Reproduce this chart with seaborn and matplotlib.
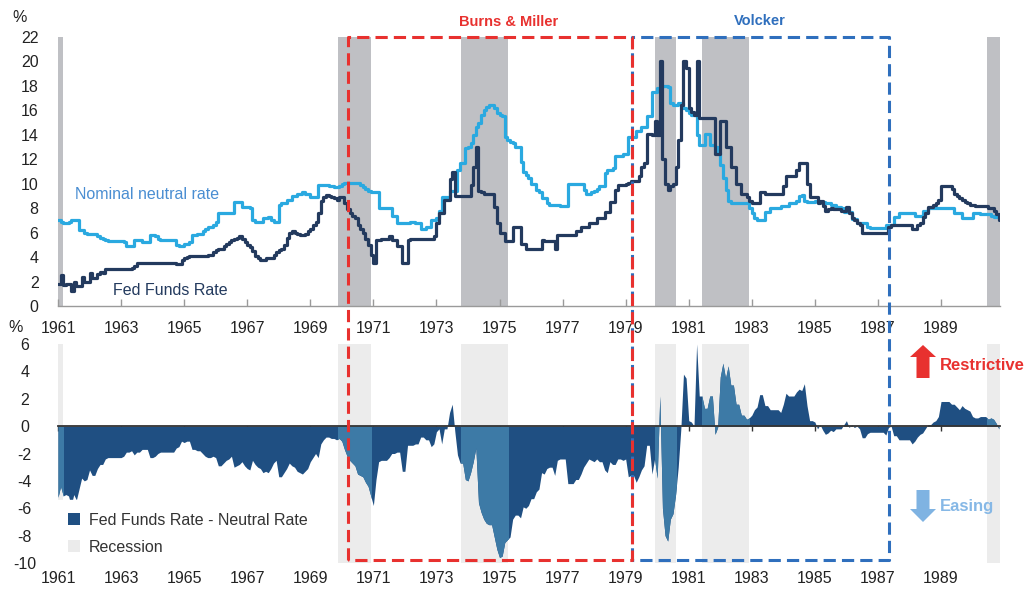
import numpy as np
import pandas as pd
import matplotlib
matplotlib.use("Agg")
import matplotlib.pyplot as plt
import seaborn as sns
from matplotlib.patches import Patch, Rectangle, FancyArrow
from matplotlib.lines import Line2D
from matplotlib import transforms

# ---------------------------------------------------------------------------
# Monthly data, January 1961 onwards (%)
# ---------------------------------------------------------------------------
start_year = 1961

fed_funds = [
    1.8, 2.5, 1.7, 1.8, 1.8, 1.2, 2.0, 1.6, 1.6, 2.4, 2.0, 2.0,        # 1961
    2.7, 2.3, 2.3, 2.6, 2.8, 2.7, 3.0, 3.0, 3.0, 3.0, 3.0, 3.0,        # 1962
    3.0, 3.0, 3.0, 3.0, 3.1, 3.3, 3.5, 3.5, 3.5, 3.5, 3.5, 3.5,        # 1963
    3.5, 3.5, 3.5, 3.5, 3.5, 3.5, 3.5, 3.5, 3.5, 3.4, 3.4, 3.8,        # 1964
    3.9, 4.0, 4.1, 4.1, 4.1, 4.1, 4.1, 4.1, 4.1, 4.2, 4.2, 4.4,        # 1965
    4.6, 4.7, 4.7, 4.9, 5.1, 5.2, 5.4, 5.5, 5.6, 5.7, 5.5, 5.2,        # 1966
    5.0, 4.8, 4.5, 4.1, 3.9, 3.8, 3.8, 3.9, 3.9, 3.9, 4.2, 4.4,        # 1967
    4.6, 4.7, 5.0, 5.6, 6.0, 6.1, 6.0, 5.9, 5.8, 5.8, 5.9, 6.1,        # 1968
    6.3, 6.6, 6.9, 7.6, 8.6, 8.9, 9.1, 9.0, 8.9, 8.8, 8.7, 8.9,        # 1969
    8.9, 8.4, 7.9, 7.6, 7.4, 7.2, 6.6, 6.3, 6.0, 5.5, 5.0, 4.2,        # 1970
    3.5, 5.4, 5.4, 5.5, 5.5, 5.5, 5.7, 5.4, 5.4, 4.9, 4.9, 3.5,        # 1971
    3.5, 5.4, 5.5, 5.5, 5.5, 5.5, 5.5, 5.5, 5.5, 5.5, 5.5, 5.7,        # 1972
    6.8, 7.6, 7.6, 8.7, 8.7, 10.4, 11.0, 9.0, 9.0, 9.0, 9.0, 9.0,      # 1973
    9.0, 9.9, 11.4, 13.0, 9.4, 9.3, 9.2, 9.2, 9.2, 9.2, 8.1, 6.8,      # 1974
    6.0, 6.0, 5.3, 5.3, 5.3, 6.5, 6.5, 6.5, 5.1, 5.1, 4.7, 4.7,        # 1975
    4.7, 4.7, 4.7, 4.7, 5.4, 5.3, 5.3, 5.3, 5.3, 4.7, 5.8, 5.8,        # 1976
    5.8, 5.8, 5.8, 5.8, 5.8, 6.1, 6.1, 6.5, 6.5, 6.5, 6.8, 6.8,        # 1977
    6.8, 7.2, 7.2, 7.2, 7.7, 7.7, 8.5, 8.5, 9.5, 9.9, 9.9, 9.9,        # 1978
    10.0, 10.1, 10.2, 10.2, 10.2, 10.6, 11.4, 11.7, 14.1, 14.1, 14.0, 15.1,  # 1979
    14.0, 20.0, 12.0, 10.0, 9.5, 9.8, 10.0, 11.4, 13.6, 16.4, 20.0, 19.5,    # 1980
    16.2, 15.9, 15.6, 20.0, 15.4, 15.4, 15.4, 15.4, 15.4, 15.4, 12.4, 12.4,  # 1981
    15.1, 15.1, 13.0, 13.0, 11.4, 11.4, 10.0, 10.0, 9.2, 9.2, 8.9, 8.6,      # 1982
    8.4, 8.4, 8.4, 9.3, 9.3, 9.2, 9.2, 9.2, 9.2, 9.2, 9.2, 9.2,        # 1983
    9.8, 10.6, 10.6, 10.6, 10.6, 11.1, 11.7, 11.7, 11.7, 10.0, 8.9, 8.9,     # 1984
    8.9, 8.4, 8.6, 8.2, 7.8, 7.9, 8.0, 7.9, 7.9, 7.9, 7.8, 7.8,        # 1985
    8.1, 7.6, 7.2, 7.0, 6.8, 6.6, 5.95, 5.95, 5.95, 5.95, 5.95, 5.95,  # 1986
    5.95, 5.95, 5.95, 5.95, 6.5, 6.6, 6.6, 6.6, 6.6, 6.6, 6.6, 6.6,    # 1987
    6.6, 6.3, 6.3, 6.6, 6.8, 7.3, 7.6, 8.1, 8.1, 8.3, 8.4, 8.7,        # 1988
    9.8, 9.8, 9.8, 9.8, 9.6, 9.2, 9.0, 8.8, 8.7, 8.5, 8.4, 8.3,        # 1989
    8.3, 8.2, 8.2, 8.2, 8.2, 8.2, 8.0, 8.0, 7.8, 7.5, 7.0,             # 1990
]

neutral_rate = [
    7.0, 6.9, 6.8, 6.8, 6.9, 7.0, 7.0, 7.0, 6.2, 6.2, 6.0, 5.9,        # 1961
    5.9, 5.9, 5.9, 5.7, 5.6, 5.5, 5.4, 5.3, 5.3, 5.3, 5.3, 5.3,        # 1962
    5.3, 5.2, 4.9, 4.9, 4.9, 5.4, 5.4, 5.4, 5.2, 5.2, 5.2, 5.8,        # 1963
    5.8, 5.7, 5.5, 5.4, 5.4, 5.4, 5.4, 5.4, 5.4, 5.0, 4.9, 4.9,        # 1964
    5.1, 5.1, 5.2, 5.8, 5.8, 5.9, 5.9, 6.1, 6.3, 6.5, 6.5, 6.6,        # 1965
    6.9, 7.6, 7.6, 7.6, 7.6, 7.6, 7.6, 8.5, 8.5, 8.5, 8.1, 8.1,        # 1966
    8.1, 8.0, 7.0, 6.9, 6.9, 6.9, 7.2, 7.2, 7.3, 7.0, 6.9, 6.9,        # 1967
    8.3, 8.4, 8.4, 8.7, 8.7, 9.0, 9.0, 9.2, 9.2, 9.3, 9.2, 9.2,        # 1968
    8.9, 8.9, 8.9, 9.9, 9.9, 9.9, 9.9, 9.8, 9.8, 9.7, 9.7, 9.8,        # 1969
    10.0, 10.1, 10.1, 10.1, 10.1, 10.1, 10.1, 9.9, 9.7, 9.6, 9.4, 9.3, # 1970
    9.3, 9.3, 8.0, 8.0, 8.0, 8.0, 8.0, 7.4, 7.4, 6.8, 6.8, 6.8,        # 1971
    6.8, 6.8, 6.9, 6.9, 6.8, 6.8, 6.3, 6.3, 6.5, 6.5, 7.0, 7.0,        # 1972
    7.2, 7.8, 8.9, 8.9, 8.9, 9.4, 9.4, 9.4, 11.1, 11.7, 11.7, 12.9,    # 1973
    13.0, 13.3, 14.0, 14.6, 15.0, 15.6, 16.0, 16.3, 16.4, 16.4, 16.2, 15.8,  # 1974
    15.6, 15.5, 13.8, 13.6, 13.4, 13.3, 13.0, 13.0, 11.8, 11.0, 10.7, 10.5,  # 1975
    10.0, 10.0, 9.5, 9.3, 8.8, 8.8, 8.4, 8.3, 8.3, 8.3, 8.3, 8.2,      # 1976
    8.2, 8.2, 10.0, 10.0, 10.0, 10.0, 10.0, 10.0, 9.5, 9.2, 9.2, 9.3,  # 1977
    9.4, 9.6, 9.8, 9.8, 10.9, 11.1, 11.1, 11.3, 12.3, 12.3, 12.3, 12.4,      # 1978
    12.4, 13.8, 13.8, 13.8, 14.3, 14.3, 14.6, 14.6, 15.5, 15.5, 17.5, 17.5,  # 1979
    17.8, 17.8, 18.0, 18.0, 17.9, 16.6, 16.4, 16.4, 16.6, 16.6, 16.2, 16.0,  # 1980
    15.8, 15.6, 15.6, 14.0, 13.2, 13.2, 14.1, 14.1, 13.2, 13.2, 13.0, 12.5,  # 1981
    11.5, 10.5, 9.5, 8.6, 8.4, 8.4, 8.4, 8.4, 8.4, 8.4, 8.4, 8.0,      # 1982
    7.6, 7.2, 7.0, 7.0, 7.0, 7.7, 7.7, 8.0, 8.0, 8.0, 8.0, 8.2,        # 1983
    8.2, 8.2, 8.4, 8.4, 8.4, 8.6, 9.0, 9.1, 8.6, 8.5, 8.5, 8.5,        # 1984
    8.6, 8.6, 8.5, 8.5, 8.4, 8.4, 8.3, 8.3, 8.1, 8.1, 8.0, 7.7,        # 1985
    7.7, 7.7, 7.1, 7.1, 6.8, 6.8, 6.8, 6.8, 6.5, 6.4, 6.4, 6.4,        # 1986
    6.4, 6.4, 6.4, 6.6, 6.6, 6.6, 7.3, 7.3, 7.6, 7.6, 7.6, 7.6,        # 1987
    7.6, 7.6, 7.4, 7.4, 7.4, 7.8, 7.8, 8.0, 8.0, 8.0, 8.0, 8.0,        # 1988
    8.0, 8.0, 8.0, 8.0, 8.0, 7.6, 7.6, 7.6, 7.2, 7.2, 7.2, 7.2,        # 1989
    7.6, 7.6, 7.6, 7.5, 7.5, 7.5, 7.5, 7.4, 7.3, 7.3, 7.2,             # 1990
]

# NBER recessions (start, end) in decimal years
recessions = [(1961.0, 1961.17), (1969.87, 1970.93), (1973.77, 1975.28),
              (1979.93, 1980.59), (1981.42, 1982.90), (1990.45, 1990.95)]

# Fed chair eras
burns_miller = (1970.19, 1979.19)
volcker = (1979.19, 1987.36)

year_ticks = list(range(1961, 1990, 2))
top_yticks = list(range(0, 23, 2))
bottom_yticks = list(range(-10, 7, 2))

# ---------------------------------------------------------------------------
date = start_year + np.arange(len(fed_funds)) / 12.0
df = pd.DataFrame({"date": date,
                   "ffr": fed_funds,
                   "neutral": neutral_rate})
df["gap"] = df["ffr"] - df["neutral"]

sns.set_theme(style="white")
plt.rcParams["font.family"] = ["Liberation Sans", "DejaVu Sans"]
plt.rcParams["axes.unicode_minus"] = False

C_FFR = "#233a5e"
C_NEUTRAL = "#2aa9e0"
C_GAP = "#1f4f82"
C_GAP_REC = "#3d7aa6"
C_REC_TOP = "#bfc0c4"
C_REC_BOT = "#ececec"
C_RED = "#e8312f"
C_BLUE = "#2f6fbd"
C_TEXT = "#222222"

W, H = 1035, 593
fig = plt.figure(figsize=(W / 100, H / 100), dpi=100)


def px_rect(left, top, right, bottom):
    return [left / W, 1 - bottom / H, (right - left) / W, (bottom - top) / H]


ax1 = fig.add_axes(px_rect(58, 37, 1000, 306))
ax2 = fig.add_axes(px_rect(58, 344, 1000, 563))
xlim = (1961.0, 1990.87)

# ---------------- top panel: policy rate vs neutral rate ----------------
for a, b in recessions:
    ax1.axvspan(a, b, color=C_REC_TOP, lw=0, zorder=0)

sns.lineplot(data=df, x="date", y="neutral", ax=ax1, color=C_NEUTRAL,
             lw=2.3, drawstyle="steps-post", estimator=None, zorder=3)
sns.lineplot(data=df, x="date", y="ffr", ax=ax1, color=C_FFR,
             lw=2.3, drawstyle="steps-post", estimator=None, zorder=4)

ax1.set_xlim(*xlim)
ax1.set_ylim(0, 22)
ax1.set_xticks(year_ticks)
ax1.set_yticks(top_yticks)
ax1.set_xlabel("")
ax1.set_ylabel("")
for s in ("left", "top", "right"):
    ax1.spines[s].set_visible(False)
ax1.spines["bottom"].set_color("#9a9a9a")
ax1.spines["bottom"].set_linewidth(1.0)
ax1.tick_params(axis="x", bottom=True, direction="in", length=5, width=1,
                color="#9a9a9a", pad=11, labelsize=11.5, labelcolor=C_TEXT)
ax1.tick_params(axis="y", left=False, length=0, pad=14, labelsize=11.5,
                labelcolor=C_TEXT)
ax1.grid(False)

ax1.text(1961.55, 9.1, "Nominal neutral rate", color="#4a8ed2",
         fontsize=11.5, va="center", ha="left")
ax1.text(1962.75, 1.3, "Fed Funds Rate", color=C_FFR,
         fontsize=11.5, va="center", ha="left")

# ---------------- bottom panel: policy stance gap ----------------
for a, b in recessions:
    ax2.axvspan(a, b, color=C_REC_BOT, lw=0, zorder=0)

ax2.fill_between(df["date"], df["gap"], 0, color=C_GAP, lw=0, zorder=1)
for a, b in recessions:
    poly = ax2.fill_between(df["date"], df["gap"], 0, color=C_GAP_REC,
                            lw=0, zorder=1.5)
    clip = Rectangle((a, -10), b - a, 16, transform=ax2.transData)
    poly.set_clip_path(clip)

ax2.set_xlim(*xlim)
ax2.set_ylim(-10, 6)
ax2.set_xticks(year_ticks)
ax2.set_yticks(bottom_yticks)
for s in ("left", "top", "right"):
    ax2.spines[s].set_visible(False)
ax2.spines["bottom"].set_position(("data", 0))
ax2.spines["bottom"].set_color("#333333")
ax2.spines["bottom"].set_linewidth(1.3)
ax2.tick_params(axis="x", bottom=True, direction="out", length=3.5, width=1,
                color="#333333", labelbottom=False)
ax2.tick_params(axis="y", left=False, length=0, pad=24, labelsize=11.5,
                labelcolor=C_TEXT)
for t in ax2.yaxis.get_major_ticks():
    t.label1.set_horizontalalignment("center")
ax2.grid(False)

sec = ax2.secondary_xaxis("bottom")
sec.set_xticks(year_ticks)
sec.tick_params(axis="x", length=0, pad=6, labelsize=11.5, labelcolor=C_TEXT)
sec.spines["bottom"].set_visible(False)

leg = ax2.legend(
    handles=[Patch(facecolor=C_GAP, edgecolor="none"),
             Patch(facecolor="#ebebeb", edgecolor="none")],
    labels=["Fed Funds Rate - Neutral Rate", "Recession"],
    loc="upper left", bbox_to_anchor=(55 / W, 1 - 500 / H),
    bbox_transform=fig.transFigure, frameon=True, fancybox=False,
    framealpha=1, facecolor="white", edgecolor="white", fontsize=11.5,
    handlelength=0.75, handleheight=0.75, handletextpad=0.55,
    labelspacing=0.75, borderpad=0.8, borderaxespad=0)
for txt in leg.get_texts():
    txt.set_color("#333333")

# ---------------- annotations in figure space ----------------
fig.text(20 / W, 1 - 18 / H, "%", ha="center", va="center",
         fontsize=11.5, color=C_TEXT)
fig.text(16 / W, 1 - 328 / H, "%", ha="center", va="center",
         fontsize=11.5, color=C_TEXT)

box_trans = transforms.blended_transform_factory(ax1.transData, fig.transFigure)
y_top = 1 - 37 / H
y_bot = 1 - 560 / H
for (x0, x1), col in ((volcker, C_BLUE), (burns_miller, C_RED)):
    fig.add_artist(Line2D([x0, x0, x1, x1, x0], [y_bot, y_top, y_top, y_bot, y_bot],
                          transform=box_trans, color=col, lw=2.2,
                          linestyle=(0, (4, 2)), zorder=20))

fig.text(1975.3, 1 - 22 / H, "Burns & Miller",
         transform=box_trans, ha="center", va="center", color=C_RED,
         fontweight="bold", fontsize=10.5)
fig.text(1983.25, 1 - 21 / H, "Volcker",
         transform=box_trans, ha="center", va="center", color=C_BLUE,
         fontweight="bold", fontsize=10.5)

fig.add_artist(FancyArrow(923 / W, 1 - 378 / H, 0, (378 - 345) / H,
                          width=13 / W, head_width=26 / W, head_length=12 / H,
                          length_includes_head=True, transform=fig.transFigure,
                          color=C_RED, lw=0))
fig.text(940 / W, 1 - 366 / H, "Restrictive", ha="left", va="center",
         color=C_RED, fontweight="bold", fontsize=12)

fig.add_artist(FancyArrow(923 / W, 1 - 490 / H, 0, -(522 - 490) / H,
                          width=13 / W, head_width=26 / W, head_length=13 / H,
                          length_includes_head=True, transform=fig.transFigure,
                          color="#7fb3e2", lw=0))
fig.text(940 / W, 1 - 507 / H, "Easing", ha="left", va="center",
         color="#86b8e6", fontweight="bold", fontsize=12)

fig.savefig("out.png", dpi=100)
